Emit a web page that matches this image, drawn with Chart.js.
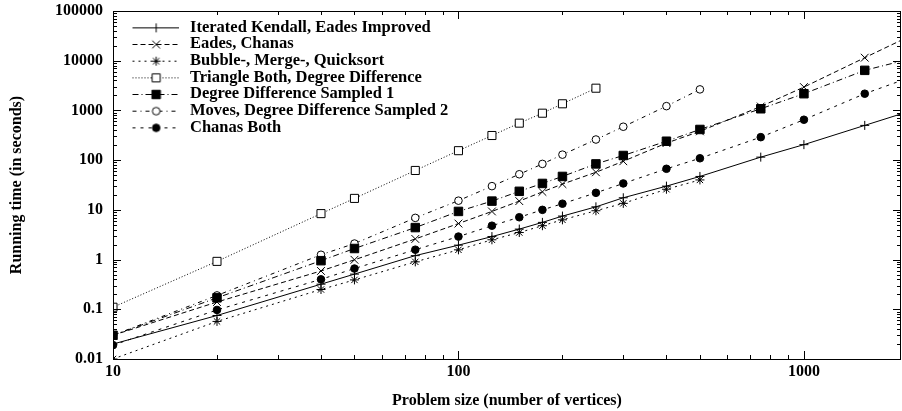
<!DOCTYPE html>
<html><head><meta charset="utf-8">
<script src="https://cdn.jsdelivr.net/npm/chart.js@4.4.1/dist/chart.umd.min.js"></script>
<style>html,body{margin:0;padding:0;background:#fff;}canvas{display:block}</style>
</head><body>
<canvas id="c" width="902" height="411"></canvas>
<script>
// ---- data ----
const sizes = [10, 20, 40, 50, 75, 100, 125, 150, 175, 200, 250, 300, 400, 500, 750, 1000, 1500, 2000];
const iteratedKendall = [0.02, 0.075, 0.32, 0.51, 1.2, 1.95, 2.9, 4.1, 5.6, 7.5, 11.5, 17.5, 30, 47, 115, 205, 500, 940];
const eadesChanas = [0.03, 0.14, 0.59, 0.99, 2.6, 5.3, 9.3, 15, 23, 33, 57, 95, 220, 380, 1200, 2950, 11500, 30000];
const bubbleMergeQuick = [0.01, 0.057, 0.25, 0.39, 0.9, 1.57, 2.5, 3.5, 4.8, 6.3, 9.6, 13.5, 26, 40, null, null, null, null];
const triangleBoth = [0.11, 0.92, 8.4, 17, 62, 155, 313, 555, 880, 1360, 2800, null, null, null, null, null, null, null];
const degreeSampled1 = [0.03, 0.17, 0.95, 1.67, 4.4, 9.3, 15, 23.6, 34, 47, 84, 124, 240, 414, 1080, 2170, 6400, 10600];
const movesSampled2 = [0.03, 0.19, 1.25, 2.1, 6.9, 15.3, 30, 52, 84, 129, 260, 470, 1220, 2650, null, null, null, null];
const chanasBoth = [0.019, 0.097, 0.40, 0.66, 1.58, 2.9, 4.8, 7.1, 10, 13.3, 22, 34, 67, 109, 290, 650, 2170, 4450];
const seriesNames = ['Iterated Kendall, Eades Improved', 'Eades, Chanas', 'Bubble-, Merge-, Quicksort',
  'Triangle Both, Degree Difference', 'Degree Difference Sampled 1', 'Moves, Degree Difference Sampled 2', 'Chanas Both'];
const xTickValues = [10, 100, 1000];
const xTickLabels = ['10', '100', '1000'];
const yTickValues = [0.01, 0.1, 1, 10, 100, 1000, 10000, 100000];
const yTickLabels = ['0.01', '0.1', '1', '10', '100', '1000', '10000', '100000'];
const xTitle = 'Problem size (number of vertices)';
const yTitle = 'Running time (in seconds)';

// ---- styles ----
const seriesValues = [iteratedKendall, eadesChanas, bubbleMergeQuick, triangleBoth, degreeSampled1, movesSampled2, chanasBoth];
const styles = [
  {dash: [], point: 'cross', radius: 4.5, fill: '#000'},
  {dash: [5, 3], point: 'crossRot', radius: 5.5, fill: '#000'},
  {dash: [2, 4], point: 'star', radius: 4.5, fill: '#000'},
  {dash: [1, 2], point: 'rect', radius: 5.7, fill: '#fff'},
  {dash: [6, 3, 1, 3], point: 'rect', radius: 6, fill: '#000'},
  {dash: [4, 4, 1, 4], point: 'circle', radius: 3.8, fill: '#fff'},
  {dash: [3, 5], point: 'circle', radius: 3.8, fill: '#000'}
];
const FONT = {family: '"Liberation Serif", "Times New Roman", serif', size: 16, weight: 'bold'};
const LEGEND_FONT = {family: '"Liberation Serif", "Times New Roman", serif', size: 16.5, weight: 'bold'};

function makeIcon(st) {
  const c = document.createElement('canvas');
  c.width = 64; c.height = 16;
  const g = c.getContext('2d');
  g.strokeStyle = '#000'; g.lineWidth = 1;
  g.setLineDash(st.dash);
  g.beginPath(); g.moveTo(17, 8.5); g.lineTo(64, 8.5); g.stroke();
  g.setLineDash([]);
  g.fillStyle = st.fill;
  Chart.helpers.drawPoint(g, {pointStyle: st.point, radius: st.radius, borderWidth: 1, rotation: 0}, 40.7, 8.5);
  return c;
}
const icons = styles.map(makeIcon);

const datasets = seriesValues.map((vals, i) => ({
  label: seriesNames[i],
  data: sizes.map((x, j) => ({x: x, y: vals[j]})),
  borderColor: '#000',
  borderWidth: 1,
  borderDash: styles[i].dash,
  pointStyle: styles[i].point,
  pointRadius: styles[i].radius,
  pointBorderColor: '#000',
  pointBorderWidth: 1,
  pointBackgroundColor: styles[i].fill,
  fill: false,
  tension: 0,
  spanGaps: false
}));

const frameTicks = {
  id: 'frameTicks',
  afterDatasetsDraw(chart) {
    const {ctx, chartArea: a, scales: {x, y}} = chart;
    ctx.save();
    ctx.strokeStyle = '#000'; ctx.lineWidth = 1; ctx.setLineDash([]);
    ctx.beginPath();
    for (let e = 1; e <= 3; e++) {
      for (let m = 1; m <= 9; m++) {
        const v = m * Math.pow(10, e);
        if (v < x.min || v > x.max) continue;
        const px = Math.round(x.getPixelForValue(v)) + 0.5;
        const len = m === 1 ? 8 : 4;
        ctx.moveTo(px, a.bottom); ctx.lineTo(px, a.bottom - len);
        ctx.moveTo(px, a.top); ctx.lineTo(px, a.top + len);
      }
    }
    for (let e = -2; e <= 5; e++) {
      for (let m = 1; m <= 9; m++) {
        const v = m * Math.pow(10, e);
        if (v < y.min * 0.999 || v > y.max * 1.001) continue;
        const py = Math.round(y.getPixelForValue(v)) + 0.5;
        const len = m === 1 ? 8 : 4;
        ctx.moveTo(a.left, py); ctx.lineTo(a.left + len, py);
        ctx.moveTo(a.right, py); ctx.lineTo(a.right - len, py);
      }
    }
    ctx.stroke();
    ctx.strokeRect(Math.round(a.left) + 0.5, Math.round(a.top) + 0.5, Math.round(a.right - a.left) - 1, Math.round(a.bottom - a.top));
    ctx.restore();
  }
};

new Chart(document.getElementById('c'), {
  type: 'line',
  data: {datasets},
  options: {
    responsive: false,
    devicePixelRatio: 1,
    animation: false,
    events: [],
    layout: {autoPadding: false, padding: {top: 11, right: 1, left: 0, bottom: 0}},
    scales: {
      x: {
        type: 'logarithmic', min: 10, max: 1910,
        grid: {display: false, drawTicks: false},
        border: {display: false},
        afterBuildTicks: s => { s.ticks = xTickValues.map(v => ({value: v})); },
        afterFit: s => { s.height = 52; s.paddingLeft = 0; s.paddingRight = 0; },
        ticks: {autoSkip: false, maxRotation: 0, padding: 3, color: '#000', font: FONT,
          callback: (v, i) => xTickLabels[i]},
        title: {display: true, text: xTitle, color: '#000', font: FONT, padding: {top: 0, bottom: 0.5}}
      },
      y: {
        type: 'logarithmic', min: 0.01, max: 100000,
        grid: {display: false, drawTicks: false},
        border: {display: false},
        afterBuildTicks: s => { s.ticks = yTickValues.map(v => ({value: v})); },
        afterFit: s => { s.width = 113; s.paddingTop = 0; s.paddingBottom = 0; },
        ticks: {autoSkip: false, padding: 10, color: '#000', font: FONT,
          callback: (v, i) => yTickLabels[i]},
        title: {display: true, text: yTitle, color: '#000', font: FONT, padding: {top: 7, bottom: 0}}
      }
    },
    plugins: {
      tooltip: {enabled: false},
      legend: {
        display: true,
        position: 'chartArea',
        align: 'start',
        title: {display: true, text: ' ', font: {size: 5, lineHeight: 1}, padding: {top: 0, bottom: 13.9}},
        labels: {
          usePointStyle: true,
          pointStyleWidth: 68.6,
          padding: 0.17,
          color: '#000',
          font: LEGEND_FONT,
          generateLabels: chart => {
            const items = Chart.defaults.plugins.legend.labels.generateLabels(chart);
            items.forEach(it => { it.pointStyle = icons[it.datasetIndex]; it.fontColor = '#000'; it.lineWidth = 1; });
            return items;
          }
        }
      }
    }
  },
  plugins: [frameTicks]
});
</script>
</body></html>
